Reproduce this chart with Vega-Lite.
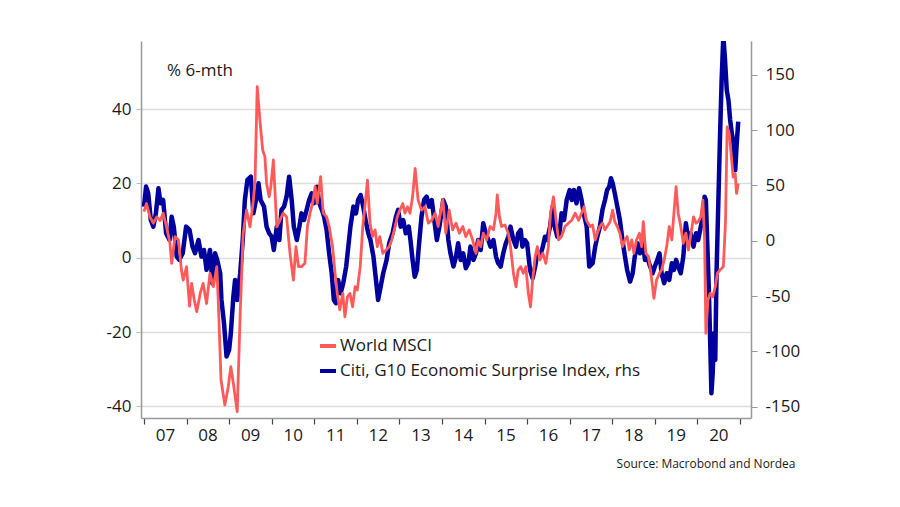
{
  "$schema": "https://vega.github.io/schema/vega-lite/v6.json",
  "width": 610,
  "height": 377,
  "autosize": {"type": "none"},
  "padding": {"left": 141, "top": 41, "right": 149, "bottom": 89},
  "background": "white",
  "config": {"font": "Open Sans", "view": {"stroke": null}},
  "title": {"text": "% 6-mth", "anchor": "start", "frame": "group", "orient": "top", "offset": 0, "dx": 26, "dy": 47, "baseline": "middle", "fontSize": 17, "fontWeight": "normal", "color": "#1a1a1a"},
  "datasets": {
    "msci": [
      {"t":2007.00,"v":12.4},{"t":2007.06,"v":14.6},{"t":2007.14,"v":11},{"t":2007.22,"v":9.3},{"t":2007.30,"v":11},{"t":2007.38,"v":10},{"t":2007.45,"v":12},{"t":2007.53,"v":8.3},{"t":2007.61,"v":3.9},{"t":2007.65,"v":-1.5},{"t":2007.73,"v":5.7},{"t":2007.81,"v":4.8},{"t":2007.88,"v":-3.3},{"t":2007.92,"v":-6},{"t":2008.00,"v":-2.4},{"t":2008.07,"v":-13},{"t":2008.12,"v":-6.9},{"t":2008.18,"v":-11.3},{"t":2008.24,"v":-14.5},{"t":2008.32,"v":-9.6},{"t":2008.39,"v":-6.9},{"t":2008.47,"v":-12.3},{"t":2008.55,"v":-4.2},{"t":2008.63,"v":-7.8},{"t":2008.71,"v":-2.4},{"t":2008.75,"v":-13},{"t":2008.81,"v":-32.9},{"t":2008.90,"v":-39.6},{"t":2008.98,"v":-34.7},{"t":2009.04,"v":-29.3},{"t":2009.10,"v":-33.8},{"t":2009.19,"v":-41.4},{"t":2009.26,"v":-15},{"t":2009.33,"v":6.6},{"t":2009.41,"v":12.8},{"t":2009.49,"v":8.3},{"t":2009.57,"v":15.5},{"t":2009.61,"v":20.9},{"t":2009.66,"v":46},{"t":2009.73,"v":36.1},{"t":2009.79,"v":28.9},{"t":2009.84,"v":27.2},{"t":2009.88,"v":20},{"t":2009.94,"v":16.4},{"t":2009.98,"v":19},{"t":2010.04,"v":26.3},{"t":2010.12,"v":8.3},{"t":2010.19,"v":10},{"t":2010.27,"v":12},{"t":2010.35,"v":11},
      {"t":2010.43,"v":1.2},{"t":2010.51,"v":-6},{"t":2010.57,"v":3},{"t":2010.63,"v":-2.4},{"t":2010.70,"v":-2.4},{"t":2010.78,"v":-1.5},{"t":2010.84,"v":8.4},{"t":2010.90,"v":12},{"t":2010.96,"v":14.6},{"t":2011.02,"v":19.1},{"t":2011.07,"v":14.6},{"t":2011.15,"v":21.8},{"t":2011.21,"v":12},{"t":2011.29,"v":11},{"t":2011.35,"v":8.4},{"t":2011.43,"v":3},{"t":2011.49,"v":-4.2},{"t":2011.54,"v":-9.6},{"t":2011.60,"v":-14},{"t":2011.67,"v":-9.6},{"t":2011.72,"v":-15.9},{"t":2011.78,"v":-10.5},{"t":2011.84,"v":-9.6},{"t":2011.90,"v":-13.2},{"t":2011.96,"v":-7.8},{"t":2012.01,"v":-8.7},{"t":2012.08,"v":-2.4},{"t":2012.14,"v":8.4},{"t":2012.19,"v":13.7},{"t":2012.25,"v":20.9},{"t":2012.31,"v":9.3},{"t":2012.37,"v":5.7},{"t":2012.43,"v":7.5},{"t":2012.48,"v":3},{"t":2012.54,"v":5.7},{"t":2012.61,"v":1.2},{"t":2012.69,"v":2.1},{"t":2012.76,"v":3},{"t":2012.82,"v":4.8},{"t":2012.90,"v":8.4},{"t":2012.95,"v":11},{"t":2013.01,"v":12.8},{"t":2013.08,"v":14.6},{"t":2013.13,"v":12},{"t":2013.19,"v":13.7},{"t":2013.25,"v":12},{"t":2013.31,"v":16.4},{"t":2013.37,"v":24},{"t":2013.44,"v":15.5},{"t":2013.52,"v":12.8},{"t":2013.60,"v":13.7},{"t":2013.68,"v":9.3},{"t":2013.76,"v":10.1},{"t":2013.84,"v":12},{"t":2013.91,"v":8.4},
      {"t":2014.02,"v":15.7},{"t":2014.09,"v":6.6},{"t":2014.17,"v":12.8},{"t":2014.25,"v":7.5},{"t":2014.33,"v":9.3},{"t":2014.41,"v":6.6},{"t":2014.49,"v":8.4},{"t":2014.56,"v":5.7},{"t":2014.64,"v":7.5},{"t":2014.72,"v":4.8},{"t":2014.80,"v":1.2},{"t":2014.85,"v":4.8},{"t":2014.91,"v":3},{"t":2014.97,"v":6.6},{"t":2015.05,"v":4.8},{"t":2015.13,"v":8.4},{"t":2015.21,"v":7.5},{"t":2015.27,"v":12},{"t":2015.30,"v":16.9},{"t":2015.35,"v":11},{"t":2015.40,"v":8.4},{"t":2015.48,"v":8.8},{"t":2015.56,"v":6.6},{"t":2015.61,"v":3},{"t":2015.68,"v":-4.2},{"t":2015.74,"v":-7.8},{"t":2015.79,"v":-3.3},{"t":2015.85,"v":-2.4},{"t":2015.91,"v":-4.2},{"t":2015.97,"v":-2.4},{"t":2016.03,"v":-9.6},{"t":2016.08,"v":-13.2},{"t":2016.13,"v":-6},{"t":2016.19,"v":0.3},{"t":2016.24,"v":3},{"t":2016.30,"v":-0.6},{"t":2016.37,"v":1.2},{"t":2016.44,"v":-1.5},{"t":2016.50,"v":3},{"t":2016.55,"v":12},{"t":2016.62,"v":16.4},{"t":2016.68,"v":10.1},{"t":2016.74,"v":4.8},{"t":2016.81,"v":5.7},{"t":2016.89,"v":8.4},{"t":2016.97,"v":9.3},{"t":2017.05,"v":10.1},{"t":2017.13,"v":12},{"t":2017.21,"v":10.1},{"t":2017.28,"v":12},{"t":2017.34,"v":13.7},{"t":2017.39,"v":10.1},
      {"t":2017.48,"v":8.4},{"t":2017.54,"v":8.8},{"t":2017.60,"v":4.8},{"t":2017.65,"v":6.6},{"t":2017.71,"v":8.4},{"t":2017.77,"v":9.3},{"t":2017.83,"v":7.5},{"t":2017.88,"v":8.4},{"t":2017.95,"v":9.7},{"t":2018.01,"v":12.8},{"t":2018.06,"v":9.7},{"t":2018.12,"v":8.4},{"t":2018.18,"v":6.6},{"t":2018.24,"v":3},{"t":2018.30,"v":4.8},{"t":2018.35,"v":5.7},{"t":2018.40,"v":2.1},{"t":2018.46,"v":4.8},{"t":2018.51,"v":1.2},{"t":2018.57,"v":4.8},{"t":2018.64,"v":6.6},{"t":2018.69,"v":3},{"t":2018.73,"v":9.7},{"t":2018.79,"v":1.2},{"t":2018.85,"v":0.3},{"t":2018.90,"v":-3.3},{"t":2018.98,"v":-10.9},{"t":2019.04,"v":-6},{"t":2019.11,"v":-4.2},{"t":2019.16,"v":-3.3},{"t":2019.22,"v":-0.6},{"t":2019.28,"v":3},{"t":2019.34,"v":8.4},{"t":2019.40,"v":4.8},{"t":2019.45,"v":12},{"t":2019.50,"v":19.1},{"t":2019.55,"v":12},{"t":2019.61,"v":8.4},{"t":2019.67,"v":3.9},{"t":2019.73,"v":6.6},{"t":2019.79,"v":2.1},{"t":2019.84,"v":5.7},{"t":2019.91,"v":11},{"t":2019.97,"v":9.3},{"t":2020.02,"v":9.7},{"t":2020.08,"v":11},{"t":2020.13,"v":15.5},{"t":2020.17,"v":4.8},{"t":2020.20,"v":-20.3},{"t":2020.25,"v":-11.3},{"t":2020.30,"v":-9.6},{"t":2020.36,"v":-10.5},{"t":2020.42,"v":-7.8},{"t":2020.47,"v":-4.2},{"t":2020.53,"v":-3.3},{"t":2020.61,"v":-2.4},{"t":2020.66,"v":9.3},{"t":2020.70,"v":35.2},{"t":2020.75,"v":33.4},{"t":2020.80,"v":27.1},{"t":2020.84,"v":21.7},{"t":2020.89,"v":22.6},{"t":2020.92,"v":17.3},{"t":2020.96,"v":20}
    ],
    "citi": [
      {"t":2007.00,"v":30.9},{"t":2007.05,"v":49},{"t":2007.10,"v":42.9},{"t":2007.16,"v":18.8},{"t":2007.22,"v":12.8},{"t":2007.28,"v":24.8},{"t":2007.34,"v":47.5},{"t":2007.39,"v":33.9},{"t":2007.45,"v":36.9},{"t":2007.52,"v":6.8},{"t":2007.60,"v":0.7},{"t":2007.65,"v":21.8},{"t":2007.70,"v":12.8},{"t":2007.77,"v":-14.3},{"t":2007.83,"v":-17.3},{"t":2007.91,"v":-11.3},{"t":2007.99,"v":12.8},{"t":2008.07,"v":9.8},{"t":2008.14,"v":-5.3},{"t":2008.20,"v":-11.3},{"t":2008.28,"v":0.7},{"t":2008.35,"v":-14.3},{"t":2008.41,"v":-8.3},{"t":2008.47,"v":-26.3},{"t":2008.55,"v":-8.3},{"t":2008.61,"v":-38.7},{"t":2008.67,"v":-11.3},{"t":2008.72,"v":-17.3},{"t":2008.79,"v":-29.4},{"t":2008.82,"v":-53.5},{"t":2008.88,"v":-74.6},{"t":2008.94,"v":-104.7},{"t":2009.00,"v":-98.7},{"t":2009.04,"v":-83.7},{"t":2009.10,"v":-50.4},{"t":2009.14,"v":-35.4},{"t":2009.19,"v":-53.5},{"t":2009.26,"v":-29.4},{"t":2009.32,"v":0.7},{"t":2009.37,"v":36.9},{"t":2009.43,"v":55},{"t":2009.51,"v":58},{"t":2009.57,"v":24.8},{"t":2009.63,"v":36.9},{"t":2009.69,"v":52},{"t":2009.74,"v":36.9},{"t":2009.82,"v":30.9},{"t":2009.88,"v":12.8},{"t":2009.94,"v":6.8},{"t":2010.00,"v":3.7},{"t":2010.05,"v":-8.3},{"t":2010.12,"v":12.8},{"t":2010.18,"v":0.7},{"t":2010.23,"v":27.9},{"t":2010.29,"v":30.9},{"t":2010.35,"v":39.9},{"t":2010.41,"v":58},
      {"t":2010.47,"v":36.9},{"t":2010.52,"v":12.8},{"t":2010.59,"v":0.7},{"t":2010.65,"v":12.8},{"t":2010.70,"v":24.8},{"t":2010.76,"v":18.8},{"t":2010.82,"v":27.9},{"t":2010.88,"v":36.9},{"t":2010.94,"v":42.9},{"t":2010.99,"v":33.9},{"t":2011.06,"v":48.9},{"t":2011.12,"v":33.9},{"t":2011.18,"v":27.9},{"t":2011.23,"v":21.8},{"t":2011.29,"v":9.8},{"t":2011.35,"v":-11.3},{"t":2011.41,"v":-29.4},{"t":2011.46,"v":-53.5},{"t":2011.51,"v":-56.5},{"t":2011.56,"v":-35.4},{"t":2011.62,"v":-47.5},{"t":2011.68,"v":-38.6},{"t":2011.75,"v":-23.3},{"t":2011.80,"v":-5.3},{"t":2011.85,"v":12.8},{"t":2011.92,"v":30.9},{"t":2011.98,"v":24.8},{"t":2012.03,"v":36.9},{"t":2012.09,"v":41.4},{"t":2012.15,"v":30.9},{"t":2012.22,"v":15.8},{"t":2012.27,"v":6.8},{"t":2012.32,"v":0.7},{"t":2012.39,"v":-14.3},{"t":2012.45,"v":-35.4},{"t":2012.50,"v":-53.5},{"t":2012.56,"v":-41.5},{"t":2012.62,"v":-29.4},{"t":2012.70,"v":-17.3},{"t":2012.76,"v":-2.3},{"t":2012.84,"v":6.8},{"t":2012.92,"v":21.8},{"t":2012.97,"v":27.9},{"t":2013.03,"v":12.8},{"t":2013.09,"v":18.8},{"t":2013.15,"v":6.8},{"t":2013.22,"v":12.8},{"t":2013.26,"v":0.7},{"t":2013.31,"v":-17.3},{"t":2013.36,"v":-32.5},{"t":2013.41,"v":-26.4},{"t":2013.47,"v":0.7},{"t":2013.52,"v":21.8},{"t":2013.58,"v":36.9},{"t":2013.64,"v":39.9},{"t":2013.70,"v":30.9},{"t":2013.76,"v":36.9},{"t":2013.81,"v":21.8},{"t":2013.88,"v":0.7},{"t":2013.94,"v":12.8},
      {"t":2014.03,"v":36.9},{"t":2014.09,"v":30.9},{"t":2014.15,"v":0.7},{"t":2014.20,"v":-11.3},{"t":2014.27,"v":-23.3},{"t":2014.33,"v":-14.3},{"t":2014.38,"v":-2.3},{"t":2014.44,"v":-17.3},{"t":2014.50,"v":-11.3},{"t":2014.56,"v":-24.8},{"t":2014.62,"v":-20.3},{"t":2014.67,"v":-5.3},{"t":2014.74,"v":-17.3},{"t":2014.80,"v":-11.3},{"t":2014.85,"v":0.7},{"t":2014.91,"v":-8.3},{"t":2014.97,"v":15.8},{"t":2015.03,"v":6.8},{"t":2015.09,"v":0.7},{"t":2015.14,"v":-5.3},{"t":2015.21,"v":0.7},{"t":2015.27,"v":-14.3},{"t":2015.32,"v":-20.3},{"t":2015.38,"v":-23.3},{"t":2015.44,"v":-11.3},{"t":2015.50,"v":-2.3},{"t":2015.56,"v":3.7},{"t":2015.61,"v":12.8},{"t":2015.68,"v":0.7},{"t":2015.74,"v":-5.3},{"t":2015.79,"v":6.8},{"t":2015.85,"v":9.8},{"t":2015.89,"v":-5.3},{"t":2015.95,"v":0.7},{"t":2016.00,"v":-2.3},{"t":2016.07,"v":-26.4},{"t":2016.13,"v":-33.9},{"t":2016.19,"v":-23.3},{"t":2016.24,"v":-11.3},{"t":2016.30,"v":-14.3},{"t":2016.37,"v":-5.3},{"t":2016.42,"v":3.7},{"t":2016.47,"v":0.7},{"t":2016.54,"v":12.8},{"t":2016.60,"v":30.9},{"t":2016.65,"v":12.8},{"t":2016.71,"v":3.7},{"t":2016.76,"v":6.8},{"t":2016.81,"v":24.8},{"t":2016.87,"v":18.8},{"t":2016.93,"v":36.9},{"t":2017.00,"v":45.9},{"t":2017.05,"v":36.9},{"t":2017.10,"v":45.9},{"t":2017.16,"v":33.9},{"t":2017.22,"v":47.5},{"t":2017.28,"v":36.9},{"t":2017.33,"v":24.8},{"t":2017.40,"v":12.8},{"t":2017.46,"v":-23.3},
      {"t":2017.54,"v":-20.3},{"t":2017.60,"v":-5.3},{"t":2017.65,"v":3.7},{"t":2017.71,"v":12.8},{"t":2017.77,"v":27.9},{"t":2017.83,"v":36.9},{"t":2017.88,"v":45.9},{"t":2017.93,"v":49},{"t":2017.97,"v":56.5},{"t":2018.01,"v":52},{"t":2018.06,"v":42.9},{"t":2018.12,"v":30.9},{"t":2018.18,"v":18.8},{"t":2018.24,"v":0.7},{"t":2018.30,"v":-14.3},{"t":2018.35,"v":-26.4},{"t":2018.42,"v":-36.9},{"t":2018.48,"v":-29.4},{"t":2018.53,"v":-14.3},{"t":2018.59,"v":-2.3},{"t":2018.65,"v":-11.3},{"t":2018.71,"v":0.7},{"t":2018.77,"v":-17.3},{"t":2018.82,"v":-14.3},{"t":2018.89,"v":-23.3},{"t":2018.95,"v":-29.4},{"t":2019.00,"v":-23.3},{"t":2019.06,"v":-17.3},{"t":2019.11,"v":-11.3},{"t":2019.16,"v":-29.4},{"t":2019.22,"v":-38.4},{"t":2019.28,"v":-29.4},{"t":2019.34,"v":-35.4},{"t":2019.40,"v":-20.3},{"t":2019.45,"v":-26.4},{"t":2019.50,"v":-17.3},{"t":2019.55,"v":-23.3},{"t":2019.61,"v":-29.4},{"t":2019.67,"v":-14.3},{"t":2019.73,"v":15.8},{"t":2019.79,"v":0.7},{"t":2019.84,"v":6.8},{"t":2019.91,"v":-5.3},{"t":2019.97,"v":6.8},{"t":2020.02,"v":0.7},{"t":2020.08,"v":12.8},{"t":2020.13,"v":21.8},{"t":2020.17,"v":39.9},{"t":2020.20,"v":36.9},{"t":2020.23,"v":0.7},{"t":2020.27,"v":-44.5},{"t":2020.30,"v":-89.7},{"t":2020.33,"v":-137.9},{"t":2020.36,"v":-119.8},{"t":2020.39,"v":-83.7},{"t":2020.42,"v":-107.8},{"t":2020.45,"v":-29.4},{"t":2020.49,"v":30.9},{"t":2020.53,"v":91.1},{"t":2020.57,"v":145.4},{"t":2020.61,"v":185},{"t":2020.65,"v":163.5},{"t":2020.69,"v":136.4},{"t":2020.73,"v":127.3},{"t":2020.77,"v":109.2},{"t":2020.81,"v":97.1},{"t":2020.84,"v":91.1},{"t":2020.89,"v":63.9},{"t":2020.92,"v":85.1},{"t":2020.96,"v":107.7}
    ]
  },
  "layer": [
    {
      "mark": {"type": "rule", "color": "#8cb04a", "strokeWidth": 3, "strokeDash": [12, 12]},
      "encoding": {
        "y": {"datum": 0, "type": "quantitative", "scale": {"domain": [-43.1, 58.3], "nice": false, "zero": false}, "axis": null}
      }
    },
    {
      "data": {"name": "citi"},
      "mark": {"type": "line", "clip": true, "strokeWidth": 4.5, "strokeJoin": "round"},
      "encoding": {
        "x": {"field": "t", "type": "quantitative", "scale": {"domain": [2006.93, 2021.26], "nice": false, "zero": false},
          "axis": {"values": [2007,2008,2009,2010,2011,2012,2013,2014,2015,2016,2017,2018,2019,2020,2021], "labelExpr": "datum.value < 2021 ? (datum.value < 2010 ? '0' : '') + (datum.value - 2000) : ''", "labelOffset": 21, "grid": false, "tickSize": 6, "tickColor": "#444", "tickWidth": 1.2, "domainColor": "#999", "domainWidth": 1.5, "labelFontSize": 17, "labelColor": "#1a1a1a", "labelPadding": 3, "labelFlush": false, "labelOverlap": false, "title": "Source: Macrobond and Nordea", "titleFontSize": 12, "titleFontWeight": "normal", "titleColor": "#1a1a1a", "titleAlign": "right", "titleBaseline": "middle", "titleX": 654, "titleY": 45}},
        "y": {"field": "v", "type": "quantitative", "scale": {"domain": [-160.3, 180.7], "nice": false, "zero": false},
          "axis": {"orient": "right", "values": [-150,-100,-50,0,50,100,150], "labelExpr": "toString(datum.value)", "grid": false, "domainColor": "#999", "domainWidth": 1.5, "tickSize": 6, "tickColor": "#999", "labelFontSize": 17, "labelColor": "#1a1a1a", "labelPadding": 8, "title": null}},
        "color": {"datum": "Citi, G10 Economic Surprise Index, rhs", "type": "nominal",
          "scale": {"domain": ["World MSCI", "Citi, G10 Economic Surprise Index, rhs"], "range": ["#ff5a5a", "#00009c"]},
          "legend": {"title": null, "orient": "none", "legendX": 177, "legendY": 295, "symbolType": "stroke", "symbolSize": 256, "symbolStrokeWidth": 4, "labelFontSize": 17, "labelColor": "#1a1a1a", "rowPadding": 7, "labelOffset": 2, "labelLimit": 400}}
      }
    },
    {
      "data": {"name": "msci"},
      "mark": {"type": "line", "clip": true, "strokeWidth": 2.8, "strokeJoin": "round"},
      "encoding": {
        "x": {"field": "t", "type": "quantitative", "scale": {"domain": [2006.93, 2021.26], "nice": false, "zero": false},
          "axis": {"values": [2007,2008,2009,2010,2011,2012,2013,2014,2015,2016,2017,2018,2019,2020,2021], "labelExpr": "datum.value < 2021 ? (datum.value < 2010 ? '0' : '') + (datum.value - 2000) : ''", "labelOffset": 21, "grid": false, "tickSize": 6, "tickColor": "#444", "tickWidth": 1.2, "domainColor": "#999", "domainWidth": 1.5, "labelFontSize": 17, "labelColor": "#1a1a1a", "labelPadding": 3, "labelFlush": false, "labelOverlap": false, "title": "Source: Macrobond and Nordea", "titleFontSize": 12, "titleFontWeight": "normal", "titleColor": "#1a1a1a", "titleAlign": "right", "titleBaseline": "middle", "titleX": 654, "titleY": 45}},
        "y": {"field": "v", "type": "quantitative", "scale": {"domain": [-43.1, 58.3], "nice": false, "zero": false},
          "axis": {"values": [-40,-20,0,20,40], "labelExpr": "toString(datum.value)", "grid": true, "gridColor": "#dddddd", "gridWidth": 1.5, "domainColor": "#999", "domainWidth": 1.5, "tickSize": 5, "tickColor": "#bbb", "labelFontSize": 17, "labelColor": "#1a1a1a", "labelPadding": 5, "title": null}},
        "color": {"datum": "World MSCI", "type": "nominal",
          "scale": {"domain": ["World MSCI", "Citi, G10 Economic Surprise Index, rhs"], "range": ["#ff5a5a", "#00009c"]},
          "legend": {"title": null, "orient": "none", "legendX": 177, "legendY": 295, "symbolType": "stroke", "symbolSize": 256, "symbolStrokeWidth": 4, "labelFontSize": 17, "labelColor": "#1a1a1a", "rowPadding": 7, "labelOffset": 2, "labelLimit": 400}}
      }
    }
  ],
  "resolve": {"scale": {"y": "independent"}, "axis": {"y": "independent"}}
}
